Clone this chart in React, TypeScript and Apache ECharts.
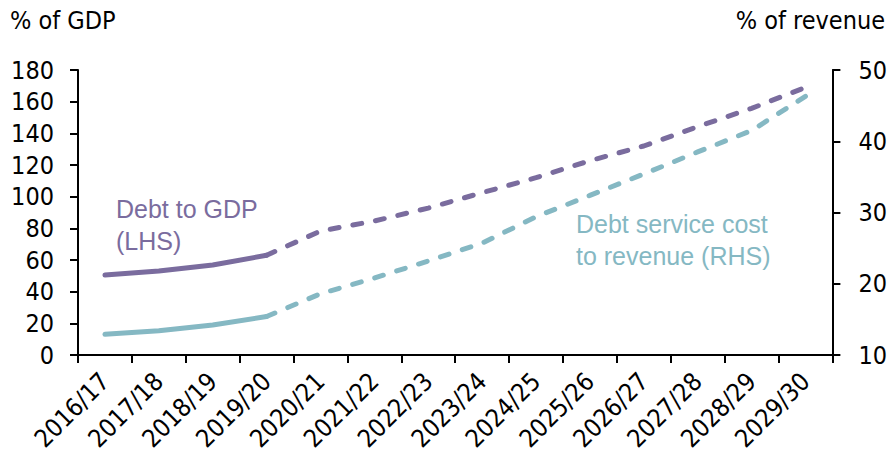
import React, { useEffect, useRef } from "react";
import * as echarts from "echarts";

const categories = [
  "2016/17", "2017/18", "2018/19", "2019/20", "2020/21", "2021/22", "2022/23",
  "2023/24", "2024/25", "2025/26", "2026/27", "2027/28", "2028/29", "2029/30",
];
// % of GDP (left axis)
const debtToGdp = [50.5, 53, 56.8, 63, 78.3, 84.6, 92.8, 102.5, 112, 122.7, 132, 144.2, 155.8, 169];
// % of revenue (right axis)
const debtServiceToRevenue = [12.9, 13.4, 14.2, 15.4, 18.6, 20.8, 23.2, 25.7, 29.4, 32.4, 35.4, 38.5, 41.5, 46.3];
const actualCount = 4; // solid through 2019/20, dashed afterwards

const leftTicks = { min: 0, max: 180, interval: 20 };
const rightTicks = { min: 10, max: 50, interval: 10 };

const PURPLE = "#7a6c9e";
const TEAL = "#85b8c3";
const NARROW = "'DejaVu Sans Condensed', 'Liberation Sans Narrow', 'Liberation Sans', Arial, sans-serif";
const REG = "'Liberation Sans', Arial, sans-serif";

function split(vals: number[]) {
  const solid = vals.map((v, i) => (i < actualCount ? v : null));
  const dashed = vals.map((v, i) => (i >= actualCount - 1 ? v : null));
  return { solid, dashed };
}

export default function App() {
  const ref = useRef<HTMLDivElement>(null);
  useEffect(() => {
    if (!ref.current) return;
    const chart = echarts.init(ref.current, undefined, { renderer: "svg" });
    const d = split(debtToGdp);
    const s = split(debtServiceToRevenue);
    const lineBase = (color: string, type: any) => ({
      type: "line",
      showSymbol: false,
      symbol: "none",
      connectNulls: false,
      lineStyle: { color, width: 5, type, cap: "round" },
      itemStyle: { color },
    });
    chart.setOption({
      animation: false,
      grid: { left: 78, right: 55, top: 70, bottom: 106, containLabel: false },
      xAxis: {
        type: "category",
        data: categories,
        boundaryGap: true,
        axisLine: { lineStyle: { color: "#000", width: 2 } },
        axisTick: { show: true, length: 8, lineStyle: { color: "#000", width: 2 } },
        axisLabel: {
          rotate: 45,
          interval: 0,
          margin: 22,
          color: "#000",
          fontFamily: NARROW,
          fontSize: 25,
        },
      },
      yAxis: [
        {
          type: "value",
          ...leftTicks,
          position: "left",
          splitLine: { show: false },
          axisLine: { show: true, lineStyle: { color: "#000", width: 2 } },
          axisTick: { show: true, length: 8, lineStyle: { color: "#000", width: 2 } },
          axisLabel: { color: "#000", fontFamily: NARROW, fontSize: 25, margin: 24 },
        },
        {
          type: "value",
          ...rightTicks,
          position: "right",
          splitLine: { show: false },
          axisLine: { show: true, lineStyle: { color: "#000", width: 2 } },
          axisTick: { show: true, length: 8, lineStyle: { color: "#000", width: 2 } },
          axisLabel: { color: "#000", fontFamily: NARROW, fontSize: 25, margin: 26 },
        },
      ],
      series: [
        { ...lineBase(PURPLE, "solid"), name: "Debt to GDP (LHS)", yAxisIndex: 0, data: d.solid },
        { ...lineBase(PURPLE, [9, 14]), name: "Debt to GDP (LHS) proj", yAxisIndex: 0, data: d.dashed },
        { ...lineBase(TEAL, "solid"), name: "Debt service cost to revenue (RHS)", yAxisIndex: 1, data: s.solid },
        { ...lineBase(TEAL, [9, 14]), name: "Debt service cost proj", yAxisIndex: 1, data: s.dashed },
      ],
      graphic: [
        {
          type: "text",
          left: 10,
          top: 8,
          style: { text: "% of GDP", fontFamily: NARROW, fontSize: 25, fill: "#000" },
        },
        {
          type: "text",
          right: 5,
          top: 8,
          style: { text: "% of revenue", fontFamily: NARROW, fontSize: 25, fill: "#000" },
        },
        {
          type: "text",
          left: 116,
          top: 193,
          style: { text: "Debt to GDP\n(LHS)", fontFamily: REG, fontSize: 25, lineHeight: 32, fill: PURPLE },
        },
        {
          type: "text",
          left: 576,
          top: 208,
          style: { text: "Debt service cost\nto revenue (RHS)", fontFamily: REG, fontSize: 25, lineHeight: 32, fill: TEAL },
        },
      ],
    });
    return () => chart.dispose();
  }, []);
  return <div ref={ref} style={{ position: "absolute", left: 0, top: 0, width: 890, height: 461 }} />;
}
